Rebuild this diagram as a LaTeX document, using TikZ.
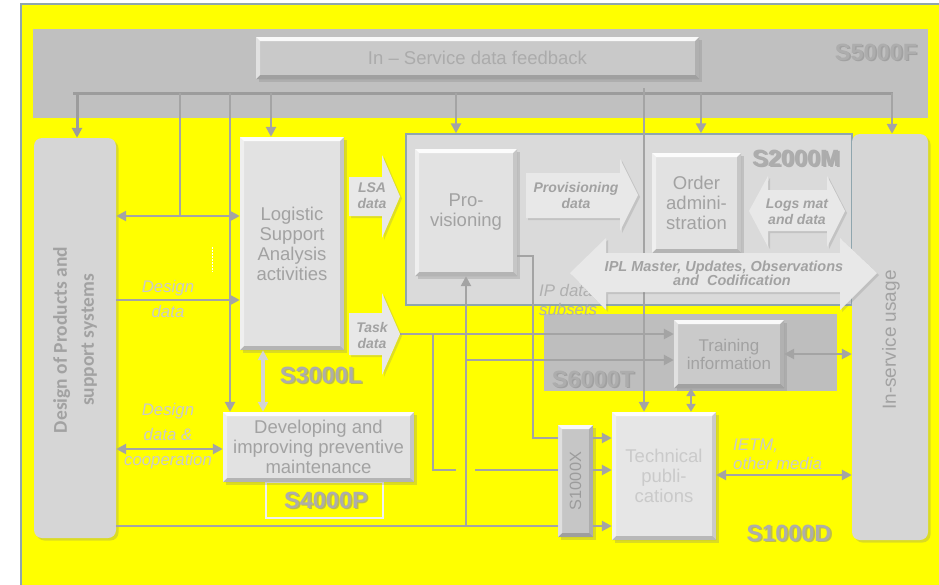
\documentclass[tikz,border=0pt]{standalone}
\usepackage{fontspec}
\setmainfont{Liberation Sans}
\newfontfamily\carlito{Carlito}
\usetikzlibrary{arrows.meta,shadows}

\definecolor{cPaper}{HTML}{FFFF00}
\definecolor{cRim}{HTML}{8FA6AE}
\definecolor{cBand}{HTML}{C0C0C0}
\definecolor{cBus}{HTML}{9C9C9C}
\definecolor{cWire}{HTML}{A4A4A4}
\definecolor{cLight}{HTML}{D4D4D4}
\definecolor{cBox}{HTML}{E2E2E2}
\definecolor{cFb}{HTML}{C9C9C9}
\definecolor{cInk}{HTML}{A2A2A2}
\definecolor{cXink}{HTML}{9C9C9C}
\definecolor{cPale}{HTML}{CACACA}
\definecolor{cStd}{HTML}{ADADAD}
\definecolor{cStdShade}{HTML}{888888}
\definecolor{cFrame}{HTML}{DADADA}
\definecolor{cSide}{HTML}{D6D6D6}
\definecolor{cArea}{HTML}{BEBEBE}
\definecolor{cTrain}{HTML}{CACACA}
\definecolor{cXbox}{HTML}{C6C6C6}
\definecolor{cTech}{HTML}{E6E6E6}
\definecolor{cBlk}{HTML}{E8E8E8}

% standard name with a soft offset shadow
\newcommand\stdlabel[3]{%
  \node[stdshade,xshift=1.6pt,yshift=-1.6pt] at (#2) {#3};
  \node[std] (#1) at (#2) {#3};}

\tikzset{
  x=1pt, y=-1pt,
  bevel/.style={path picture={
    \coordinate (bnw) at (path picture bounding box.north west);
    \coordinate (bne) at (path picture bounding box.north east);
    \coordinate (bsw) at (path picture bounding box.south west);
    \coordinate (bse) at (path picture bounding box.south east);
    \fill[white,opacity=.9] (bnw) -- (bne) -- ([shift={(-4pt,-4pt)}]bne) -- ([shift={(4pt,-4pt)}]bnw) -- cycle;
    \fill[black,opacity=.2] (bsw) -- (bse) -- ([shift={(-4pt,4pt)}]bse) -- ([shift={(4pt,4pt)}]bsw) -- cycle;
    \fill[black,opacity=.12] (bne) -- (bse) -- ([shift={(-4pt,4pt)}]bse) -- ([shift={(-4pt,-4pt)}]bne) -- cycle;
    \fill[white,opacity=.45] (bnw) -- (bsw) -- ([shift={(4pt,4pt)}]bsw) -- ([shift={(4pt,-4pt)}]bnw) -- cycle;
  }},
  shade3/.style={drop shadow={shadow xshift=2.5pt,shadow yshift=-2.5pt,opacity=.28}},
  box/.style={fill=cBox, bevel, shade3, inner sep=0pt, align=center, text=cInk,
    font=\fontsize{18.5}{20}\selectfont},
  side/.style={fill=cSide, rounded corners=8pt, inner sep=0pt, shade3},
  area/.style={inner sep=0pt},
  blk/.style={fill=cBlk, drop shadow={shadow xshift=2pt,shadow yshift=-2pt,opacity=.25}},
  blktxt/.style={text=cInk, font=\bfseries\itshape\fontsize{14}{16}\selectfont, align=center, inner sep=0pt},
  note/.style={text=cPale, font=\itshape\fontsize{16.8}{25}\selectfont, align=center, inner sep=0pt},
  std/.style={text=cStd, font=\bfseries\fontsize{23.5}{24}\selectfont, inner sep=0pt},
  stdshade/.style={text=cStdShade, opacity=.55, font=\bfseries\fontsize{23.5}{24}\selectfont, inner sep=0pt},
  ln/.style={draw=cWire, line width=2.8pt},
  busln/.style={draw=cBus, line width=3pt},
  one/.style={-{Triangle[length=10pt,width=10pt]}},
  two/.style={{Triangle[length=10pt,width=10pt]}-{Triangle[length=10pt,width=10pt]}},
  twosmall/.style={{Triangle[length=8pt,width=9pt]}-{Triangle[length=8pt,width=9pt]}},
}

\begin{document}
\begin{tikzpicture}
\useasboundingbox (0,0) rectangle (939,584);
\fill[white] (0,0) rectangle (939,584);
\fill[cPaper] (21,4) rectangle (945,590);
\draw[cRim, line width=2pt] (21,590) -- (21,4) -- (945,4);

% ---------- standards areas ----------
\node[area, fill=cBand, minimum width=895pt, minimum height=89pt] (band) at (480.5,73.5) {};
\node[area, fill=cFrame, draw=cRim, line width=1.5pt, minimum width=446pt, minimum height=171pt] (s2000m) at (629,219.5) {};
\node[area, fill=cArea, minimum width=293pt, minimum height=77pt] (s6000t) at (690.5,352.5) {};
\node[area, draw=white!88!gray, line width=1.6pt, minimum width=117pt, minimum height=36pt] (s4000pbox) at (324.5,500) {};

% ---------- helper levels ----------
\coordinate (b1) at (77,93);   \coordinate (b2) at (180,93);
\coordinate (b3) at (230,93);  \coordinate (b4) at (271,93);
\coordinate (b5) at (456,93);  \coordinate (b6) at (644,88);
\coordinate (b7) at (701,93);  \coordinate (b8) at (892,93);
\coordinate (busL) at (73,93); \coordinate (busR) at (893,93);
\coordinate (j1) at (180,216);
\coordinate (y300) at (0,300); \coordinate (y449) at (0,449);
\coordinate (y526) at (0,526); \coordinate (y360) at (0,360);
\coordinate (y334) at (0,334); \coordinate (y470) at (0,470);
\coordinate (y438) at (0,438); \coordinate (y256) at (0,256);
\coordinate (y354) at (0,354); \coordinate (y475) at (0,475);
\coordinate (x263) at (263,0); \coordinate (x466) at (466,0);
\coordinate (x433) at (433,0); \coordinate (x533) at (533,0);
\coordinate (x691) at (691,0);
\coordinate (tasktip) at (400,334);
\coordinate (gapL) at (456,470); \coordinate (gapR) at (475,470);

% ---------- boxes ----------
\node[side, minimum width=82pt, minimum height=400pt] (design) at (75,338) {};
\node[side, minimum width=76pt, minimum height=406pt] (insvc) at (890,337) {};
\node[box, fill=cFb, text=cInk!90!white, minimum width=443pt, minimum height=42pt] (fb) at (477.5,58) {In -- Service data feedback};
\node[box, minimum width=104pt, minimum height=213pt] (lsa) at (292,243.5) {Logistic\\Support\\Analysis\\activities};
\node[box, minimum width=191pt, minimum height=70pt] (dev) at (318.5,447) {Developing and\\improving preventive\\maintenance};
\node[box, minimum width=102pt, minimum height=127pt] (prov) at (466,212.5) {Pro-\\visioning};
\node[box, minimum width=89pt, minimum height=100pt] (order) at (696.5,203) {Order\\admini-\\stration};
\node[box, fill=cTrain, font=\fontsize{17}{18}\selectfont, minimum width=110pt, minimum height=68pt] (train) at (729,354) {Training\\information};
\node[box, fill=cXbox, minimum width=35pt, minimum height=112pt] (s1000x) at (575.5,481) {};
\node[box, fill=cTech, text=cPale, minimum width=104pt, minimum height=128pt] (tech) at (664,476) {Technical\\publi-\\cations};

\node[rotate=90, text=cInk, font=\carlito\bfseries\fontsize{19.5}{27}\selectfont, align=center] at (75,340) {Design of Products and\\support systems};
\node[rotate=90, text=cInk, font=\fontsize{19}{20}\selectfont] at (891,340) {In-service usage};
\node[rotate=90, text=cXink, font=\fontsize{16.3}{18}\selectfont] at (s1000x.center) {S1000X};

% ---------- feedback bus ----------
\draw[busln] (busL) -- (busR);
\draw[busln,one] (b1) -- (b1 |- design.north);
\draw[ln] (b2) -- (j1);
\draw[ln,one] (b3) -- (b3 |- dev.north);
\draw[ln,one] (b4) -- (b4 |- lsa.north);
\draw[ln,one] (b5) -- (b5 |- s2000m.north);
\draw[ln,one] (b6) -- (b6 |- tech.north);
\draw[ln,one] (b7) -- (b7 |- s2000m.north);
\draw[ln,one] (b8) -- (b8 |- insvc.north);

% ---------- design side links ----------
\draw[ln,two] (design.east |- j1) -- (lsa.west |- j1);
\draw[ln,one] (design.east |- y300) -- (lsa.west |- y300);
\draw[ln,two] (design.east |- y449) -- (dev.west |- y449);
\draw[draw=cLight, line width=4pt, two] (lsa.south -| x263) -- (dev.north -| x263);
\draw[white, dash pattern=on 2pt off 1pt, line width=1pt] (212,247) -- (212,272);

% ---------- lower links ----------
\draw[ln] (design.east |- y526) -- (s1000x.west |- y526);
\draw[ln,one] (x466 |- y526) -- (x466 |- prov.south);
\draw[ln,one] (x466 |- y360) -- (train.west |- y360);
\draw[ln,one] (tasktip) -- (train.west |- y334);
\draw[ln] (x433 |- y334) -- (x433 |- y470) -- (gapL);
\draw[ln] (gapR) -- (s1000x.west |- y470);
\draw[ln] (prov.east |- y256) -- (x533 |- y256) -- (x533 |- y438) -- (s1000x.west |- y438);
\draw[ln,one] (s1000x.east |- y438) -- (tech.west |- y438);
\draw[ln,one] (s1000x.east |- y470) -- (tech.west |- y470);
\draw[ln,one] (s1000x.east |- y526) -- (tech.west |- y526);
\draw[ln,twosmall] (train.south -| x691) -- (tech.north -| x691);
\draw[ln,two] (train.east |- y354) -- (insvc.west |- y354);
\draw[ln,two] (tech.east |- y475) -- (insvc.west |- y475);

% ---------- texts on the background ----------
\node[note] (lbdd) at (168,298.5) {Design\\data};
\node[note] (lbdc) at (168,436) {Design\\data \&\\cooperation};
\node[note, text=cInk!85!white, align=left, anchor=west, font=\itshape\fontsize{16.8}{19}\selectfont] (lbip) at (539,300) {IP data\\subsets};
\node[note, align=left, anchor=west, font=\itshape\fontsize{16.8}{19}\selectfont] (lbietm) at (733,454) {IETM,\\other media};

% ---------- block arrows ----------
\fill[blk] (349,177) -- (382,177) -- (382,155) -- (400,196.5) -- (382,238) -- (382,216) -- (349,216) -- cycle;
\node[blktxt] (lsadata) at (372,196) {LSA\\data};
\fill[blk] (349,313) -- (382,313) -- (382,293) -- (400,334) -- (382,375) -- (382,355) -- (349,355) -- cycle;
\node[blktxt] (taskdata) at (372,335) {Task\\data};
\fill[blk] (526,173) -- (620,173) -- (620,159) -- (638,195) -- (620,231) -- (620,218) -- (526,218) -- cycle;
\node[blktxt] (provdata) at (576,195) {Provisioning\\data};
\fill[blk] (749,211) -- (768,176) -- (768,190) -- (827,190) -- (827,176) -- (845,211) -- (827,247) -- (827,231) -- (768,231) -- (768,247) -- cycle;
\node[blktxt] (logsdata) at (797,212) {Logs mat\\and data};
\fill[blk] (570,273) -- (606,238) -- (606,253) -- (840,253) -- (840,238) -- (877,273) -- (840,310) -- (840,292) -- (606,292) -- (606,310) -- cycle;
\node[blktxt, font=\bfseries\itshape\fontsize{14.5}{14}\selectfont] (ipl) at (724,273) {IPL Master, Updates, Observations\\\hspace*{16pt}and\ \ Codification};

% ---------- standard names ----------
\stdlabel{s5000flbl}{876,52}{S5000F}
\stdlabel{s2000mlbl}{796,158}{S2000M}
\stdlabel{s3000llbl}{321,375}{S3000L}
\stdlabel{s4000plbl}{326,500}{S4000P}
\stdlabel{s6000tlbl}{593,379}{S6000T}
\stdlabel{s1000dlbl}{789,533}{S1000D}
\end{tikzpicture}
\end{document}
